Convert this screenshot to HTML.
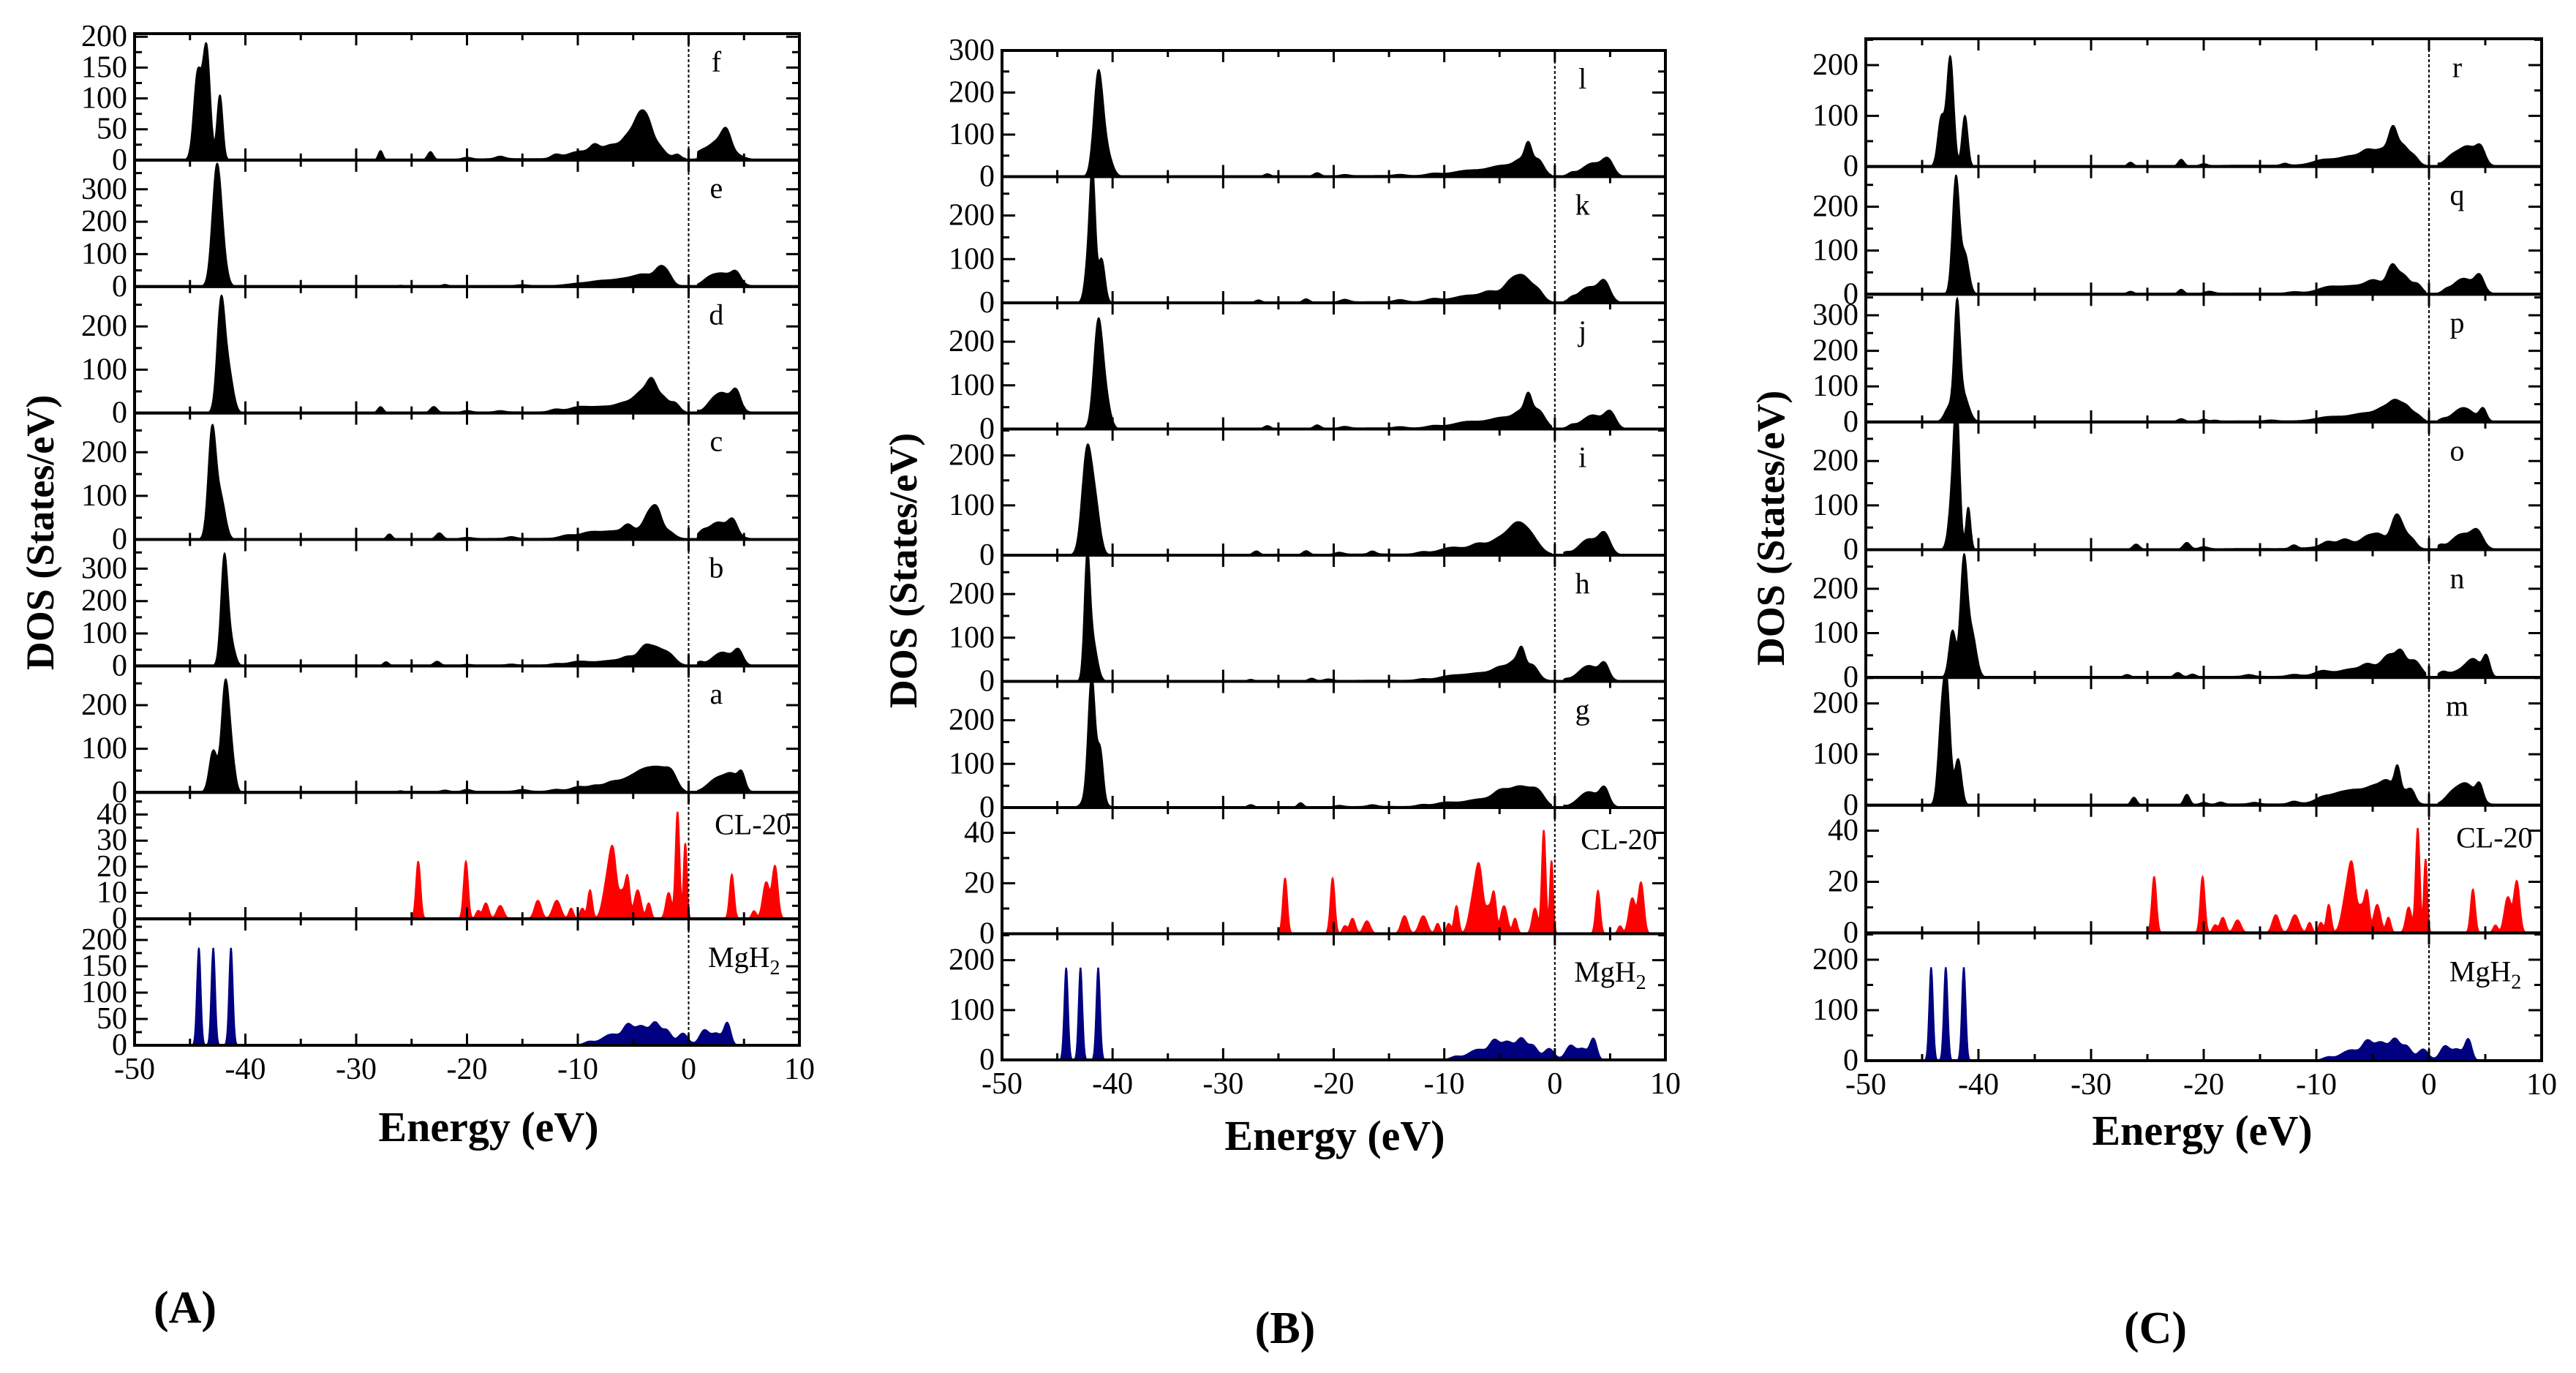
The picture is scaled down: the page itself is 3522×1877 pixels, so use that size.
<!DOCTYPE html>
<html><head><meta charset="utf-8">
<style>
html,body{margin:0;padding:0;background:#fff;}
svg{display:block;}
svg text, text, tspan{font-family:"Liberation Serif","Times New Roman",Times,"DejaVu Serif",serif !important;}
</style></head>
<body>
<svg id="fig" width="3522" height="1877" viewBox="0 0 3522 1877" xmlns="http://www.w3.org/2000/svg" style="font-family:'Liberation Serif','Times New Roman',serif">
<rect width="3522" height="1877" fill="#fff"/>
<text x="253" y="1808" font-size="62" font-weight="bold" text-anchor="middle">(A)</text>
<text x="1757" y="1836" font-size="62" font-weight="bold" text-anchor="middle">(B)</text>
<text x="2947" y="1836" font-size="62" font-weight="bold" text-anchor="middle">(C)</text>
</svg>
<script>
// ---- data: peaks [center eV, height, width] ----
const energyTicks = [-50,-40,-30,-20,-10,0,10];
const bandBase = [[-16,2,4],[-7.5,10,2.2],[-4,18,1.6],[3.2,18,1.1]];
const clPeaks = [[-24.4,22,0.2],[-20.1,22,0.2],[-19,3,0.2],[-18.3,6,0.25],[-17,5,0.3],[-13.6,7,0.3],[-11.9,7,0.35],[-10.6,4,0.2],[-9.6,4,0.2],[-8.9,11,0.2],[-7.3,15,0.4],[-6.8,20,0.3],[-6,10,0.3],[-5.5,14,0.2],[-4.6,11,0.3],[-3.6,6,0.2],[-1.8,10,0.25],[-1,41,0.18],[-0.3,29,0.15],[3.9,17,0.2],[5.9,3,0.2],[7,14,0.3],[7.8,20,0.25]];
const mgPeaks = [[-44.2,185,0.17],[-42.9,185,0.17],[-41.3,185,0.17],[-9,5,0.4],[-7,15,0.8],[-5.5,25,0.4],[-4.3,25,0.6],[-3,30,0.4],[-2,20,0.4],[-0.5,18,0.4],[1.4,26,0.4],[2.5,22,0.5],[3.5,40,0.3],[-4,12,2.5]];
const pF = [[-44.3,140,0.35],[-43.5,178,0.32],[-42.3,105,0.25],[-27.8,15,0.2],[-23.3,13,0.25],[-20,3,0.4],[-17,4,0.4],[-12,6,0.4],[-10,8,1],[-8.5,12,0.4],[-7,12,0.8],[-5.5,18,0.5],[-4.5,42,0.5],[-3.7,40,0.5],[-2.6,8,0.4],[-1,6,0.3],[1,10,0.6],[2.5,16,0.8],[3.4,26,0.4]];
const pE = [[-42.6,340,0.4],[-42.1,80,0.4],[-26,3,0.3],[-22,5,0.3],[-15,3,0.5],[-10,4,1],[-8,6,0.8],[-6,8,1],[-4,16,0.8],[-2.5,45,0.5],[-1.8,20,0.4],[1.8,12,0.6],[3,22,1],[4.3,28,0.4]];
const pD = [[-42.2,250,0.35],[-41.5,90,0.4],[-27.8,14,0.25],[-23,14,0.3],[-20,4,0.4],[-17,3,0.4],[-12,6,0.5],[-10,8,0.8],[-8,4,1],[-6,6,0.6],[-4,32,0.8],[-3.3,38,0.4],[-2.3,24,0.5],[-1.2,18,0.4],[0.4,10,0.3],[2,10,0.5],[3,28,0.7],[4.3,40,0.4]];
const pC = [[-43,250,0.35],[-42.2,90,0.4],[-27,12,0.25],[-22.5,14,0.3],[-20,3,0.5],[-16,4,0.4],[-11,6,0.6],[-9,8,0.8],[-7,6,1],[-5.5,15,0.4],[-3.5,42,0.5],[-2.8,42,0.4],[-1.8,12,0.5],[1.2,12,0.4],[2.5,24,0.8],[4,30,0.4]];
const pB = [[-41.9,330,0.3],[-41.3,70,0.35],[-27.3,12,0.25],[-22.7,13,0.3],[-20,3,0.4],[-16,3,0.4],[-12,4,0.5],[-10,8,0.8],[-7,4,1],[-5.5,10,0.5],[-4,34,0.5],[-3,36,0.6],[-1.8,30,0.6],[1,10,0.3],[3,24,0.8],[4.5,40,0.4]];
const pA = [[-42.9,95,0.35],[-41.8,250,0.35],[-41.2,60,0.3],[-26,3,0.3],[-22,4,0.4],[-20,5,0.4],[-15,4,0.5],[-12,4,0.5],[-10,7,0.6],[-8.5,6,0.5],[-7,10,0.6],[-5.5,12,0.8],[-4,26,0.8],[-2.5,38,0.8],[-1.5,28,0.5],[2.5,18,0.8],[4,26,0.6],[4.8,32,0.3]];
const pL = [[-41.3,230,0.4],[-40.6,60,0.5],[-26,6,0.3],[-21.5,8,0.3],[-19,3,0.4],[-14,3,0.5],[-11,4,0.6],[-8,4,1],[-5,6,1],[-3,24,0.6],[-2.4,50,0.3],[-1.5,35,0.5],[1.5,5,0.3],[3.5,14,0.7],[4.8,36,0.5]];
const pK = [[-42.2,90,0.3],[-41.8,270,0.25],[-41,100,0.3],[-26.8,6,0.3],[-22.5,8,0.3],[-19,6,0.4],[-14,5,0.5],[-11,6,0.6],[-8,6,1],[-6,10,0.6],[-4,24,0.6],[-2.8,44,0.7],[-1.5,20,0.5],[1.5,6,0.3],[3,18,0.8],[4.5,40,0.5]];
const pJ = [[-41.3,240,0.4],[-40.6,60,0.4],[-26,7,0.3],[-21.5,8,0.3],[-19,4,0.4],[-14,3,0.5],[-11,4,0.6],[-8,6,1],[-5,6,1],[-3,24,0.6],[-2.4,45,0.3],[-1.5,38,0.6],[1.5,5,0.3],[3.5,14,0.7],[5,36,0.5]];
const pI = [[-42.3,210,0.45],[-41.5,80,0.4],[-27,8,0.3],[-22.5,8,0.3],[-19.5,4,0.4],[-16.5,6,0.3],[-12,4,0.5],[-9.5,8,1],[-7,10,0.6],[-5,14,0.8],[-3.5,34,0.7],[-2.3,32,0.8],[1,4,0.3],[3,14,0.7],[4.5,36,0.5]];
const pH = [[-42.3,260,0.25],[-41.8,90,0.4],[-27.5,4,0.3],[-22,6,0.3],[-20.5,4,0.4],[-12,3,0.5],[-9.5,6,1],[-7,6,1],[-5,12,0.6],[-3.5,28,0.6],[-3,40,0.3],[-2,28,0.5],[1,3,0.3],[3,18,0.8],[4.5,32,0.4]];
const pG = [[-41.9,245,0.3],[-41.1,95,0.25],[-41.7,60,0.6],[-27.5,6,0.3],[-23,10,0.25],[-19.5,3,0.4],[-16.5,4,0.4],[-12,4,0.5],[-10,6,0.8],[-7,6,1],[-5,16,0.6],[-3,32,1],[-1.5,26,0.6],[0.5,5,0.3],[3,18,0.8],[4.5,36,0.4]];
const pR = [[-43.3,95,0.3],[-42.5,215,0.3],[-41.2,100,0.25],[-26.5,8,0.25],[-22,13,0.25],[-20,4,0.3],[-12.8,4,0.3],[-9.5,6,0.8],[-7,8,1],[-5.5,12,0.5],[-4,14,0.7],[-3.2,50,0.35],[-2.3,30,0.5],[-1.3,14,0.4],[0.4,8,0.3],[2,12,0.6],[3.5,22,0.7],[4.6,28,0.4]];
const pQ = [[-42,265,0.3],[-41.2,90,0.35],[-26.5,6,0.3],[-22,10,0.25],[-19.5,5,0.4],[-12,3,0.5],[-9,8,0.8],[-7,6,1],[-5,12,0.6],[-3.3,42,0.4],[-2.3,34,0.6],[-1,18,0.4],[1.5,5,0.3],[3,18,0.8],[4.5,34,0.4]];
const pP = [[-41.9,290,0.25],[-41.4,80,0.5],[-42.6,40,0.4],[-22,8,0.3],[-20,6,0.3],[-19,3,0.3],[-14,3,0.5],[-9,6,1],[-6,8,1],[-4,18,0.6],[-3,38,0.5],[-2,34,0.5],[-1,14,0.4],[1.2,5,0.3],[3,22,0.8],[4.8,32,0.3]];
const pO = [[-42.2,150,0.35],[-41.9,230,0.25],[-40.9,95,0.2],[-26,12,0.3],[-21.5,15,0.3],[-20,5,0.4],[-12,8,0.3],[-9,10,0.5],[-7.5,12,0.5],[-5.5,12,0.5],[-4.5,14,0.5],[-3,38,0.4],[-2.5,38,0.5],[-1.5,16,0.4],[1,8,0.3],[2.8,18,0.8],[4.3,32,0.5]];
const pN = [[-42.3,105,0.3],[-41.3,255,0.3],[-40.6,100,0.4],[-26.8,6,0.3],[-22.3,10,0.3],[-21,6,0.3],[-16,4,0.4],[-12,4,0.5],[-9.5,8,0.6],[-7,6,0.8],[-5.5,12,0.5],[-3.5,32,0.6],[-2.5,38,0.4],[-1.3,34,0.6],[1.2,10,0.4],[4,28,0.6],[5.1,42,0.3]];
const pM = [[-43.3,140,0.3],[-42.8,220,0.3],[-41.8,90,0.3],[-26.2,15,0.25],[-21.5,20,0.25],[-20,4,0.3],[-18.5,4,0.3],[-15.5,3,0.4],[-12,5,0.4],[-9.5,8,0.6],[-8,12,0.8],[-6.5,14,0.8],[-5,14,0.6],[-3.7,28,0.6],[-2.8,50,0.25],[-2,18,0.5],[-1.5,14,0.3],[2,14,0.6],[3.3,24,0.7],[4.5,30,0.3]];

const T4=[0,50,100,150,200], T3=[0,100,200,300], T2=[0,100,200], TC=[0,10,20,30,40], TC2=[0,20,40];
const figures = [
 {id:'a', box:[184,1093,46,1429], title:[55,728], ex:[668,1560], panels:[
  ['f',pF,205,T4],['e',pE,390,T3],['d',pD,292,T2],['c',pC,290,T2],['b',pB,390,T3],['a',pA,290,T2],['CL-20',clPeaks,48.5,TC],['MgH2',mgPeaks,240,T4]]},
 {id:'b', box:[1370,2277,69,1449], title:[1235,780], ex:[1825,1572], panels:[
  ['l',pL,300,T3],['k',pK,289,T2],['j',pJ,289,T2],['i',pI,253,T2],['h',pH,289,T2],['g',pG,289,T2],['CL-20',clPeaks,50,TC2],['MgH2',mgPeaks,253,T2]]},
 {id:'c', box:[2551,3475,53,1450], title:[2421,722], ex:[3011,1565], panels:[
  ['r',pR,252,T2],['q',pQ,292,T2],['p',pP,359,T3],['o',pO,288,T2],['n',pN,288,T2],['m',pM,251,T2],['CL-20',clPeaks,50,TC2],['MgH2',mgPeaks,253,T2]]}
];

const NS='http://www.w3.org/2000/svg';
const svg=document.getElementById('fig');
const FF="'Liberation Serif','Times New Roman',serif";
function mk(tag,attrs,parent){const e=document.createElementNS(NS,tag);for(const k in attrs)e.setAttribute(k,attrs[k]);if(tag==='text')e.setAttribute('font-family',FF);(parent||svg).appendChild(e);return e;}
function dos(peaks,e){let s=0;for(const p of peaks){const d=(e-p[0])/p[2];s+=p[1]*Math.exp(-0.5*d*d);}return s;}

figures.forEach(f=>{
  const [L,R,Tp,B]=f.box; const n=f.panels.length; const ph=(B-Tp)/n;
  const xs=e=>L+(e+50)/60*(R-L);
  const g=mk('g',{});
  
  
  f.panels.forEach((p,i)=>{
    const [lab,peaks0,ymax,ticks]=p;
    const top=Tp+i*ph, bot=top+ph;
    const ys=v=>bot-Math.min(v,ymax)/ymax*ph;
    const isCL=lab==='CL-20', isMg=lab==='MgH2';
    const peaks=(isCL||isMg)?peaks0:peaks0.concat(bandBase);
    const col=isCL?'#ff0000':(isMg?'#000080':'#000');
    const e0=isCL?-26.5:(isMg?-46:-47), e1=isCL||isMg?10:9;
    let d='M'+xs(e0).toFixed(1)+','+bot.toFixed(1);
    for(let e=e0;e<=e1+1e-9;e+=0.04){
      let v=dos(peaks,e);
      if(!isCL&&!isMg&&e>-0.3&&e<0.8) v*=0.15;
      d+='L'+xs(e).toFixed(1)+','+ys(v).toFixed(1);
    }
    d+='L'+xs(e1).toFixed(1)+','+bot.toFixed(1)+'Z';
    const area=mk('path',{d:d,fill:col,stroke:col,'stroke-width':2},g);
    
    
    const fr=mk('rect',{x:L,y:top,width:R-L,height:ph,fill:'none',stroke:'#000','stroke-width':4},g);
    
    
    const step=ticks[1]-ticks[0];
    for(let v=0;v<=ymax+1e-9;v+=step/2){
      const major=Math.abs(v/step-Math.round(v/step))<1e-6;
      const len=major?18:10, y=ys(v);
      mk('line',{x1:L,y1:y,x2:L+len,y2:y,stroke:'#000','stroke-width':3},g);
      mk('line',{x1:R,y1:y,x2:R-len,y2:y,stroke:'#000','stroke-width':3},g);
    }
    ticks.forEach(v=>{
      const t=mk('text',{x:L-10,y:ys(v)+13,'font-size':42,'text-anchor':'end'},g);
      t.textContent=v;
      
      
    });
    for(let e=-50;e<=10;e+=5){
      const len=(e%10===0)?16:9;
      mk('line',{x1:xs(e),y1:bot,x2:xs(e),y2:bot-len,stroke:'#000','stroke-width':3},g);
      mk('line',{x1:xs(e),y1:top,x2:xs(e),y2:top+len,stroke:'#000','stroke-width':3},g);
    }
    const lt=mk('text',{'font-size':40,'text-anchor':'middle'},g);
    
    
    if(isMg){
      lt.setAttribute('x',xs(5));lt.setAttribute('y',top+ph*0.38);
      lt.appendChild(document.createTextNode('MgH'));
      const s=mk('tspan',{'font-size':28,dy:10},lt);s.textContent='2';
    } else if(isCL){
      lt.setAttribute('x',xs(5.8));lt.setAttribute('y',top+ph*0.33);lt.textContent='CL-20';
    } else {
      lt.setAttribute('x',xs(2.5));lt.setAttribute('y',top+ph*0.3);lt.textContent=lab;
    }
  });
  const fl=mk('line',{x1:xs(0),y1:Tp,x2:xs(0),y2:B,stroke:'#000','stroke-width':2,'stroke-dasharray':'4,3'},g);
  
  
  energyTicks.forEach(e=>{
    const t=mk('text',{x:xs(e),y:B+46,'font-size':42,'text-anchor':'middle'},g);
    t.textContent=e;
    
    
  });
  const xt=mk('text',{x:f.ex[0],y:f.ex[1],'font-size':58,'font-weight':'bold','text-anchor':'middle'},g);
  xt.textContent='Energy (eV)';
  
  
  const yt=mk('text',{x:f.title[0],y:f.title[1],'font-size':54,'font-weight':'bold','text-anchor':'middle',transform:'rotate(-90 '+f.title[0]+' '+f.title[1]+')',dy:18},g);
  yt.textContent='DOS (States/eV)';
  
  
});
</script>
</body></html>
